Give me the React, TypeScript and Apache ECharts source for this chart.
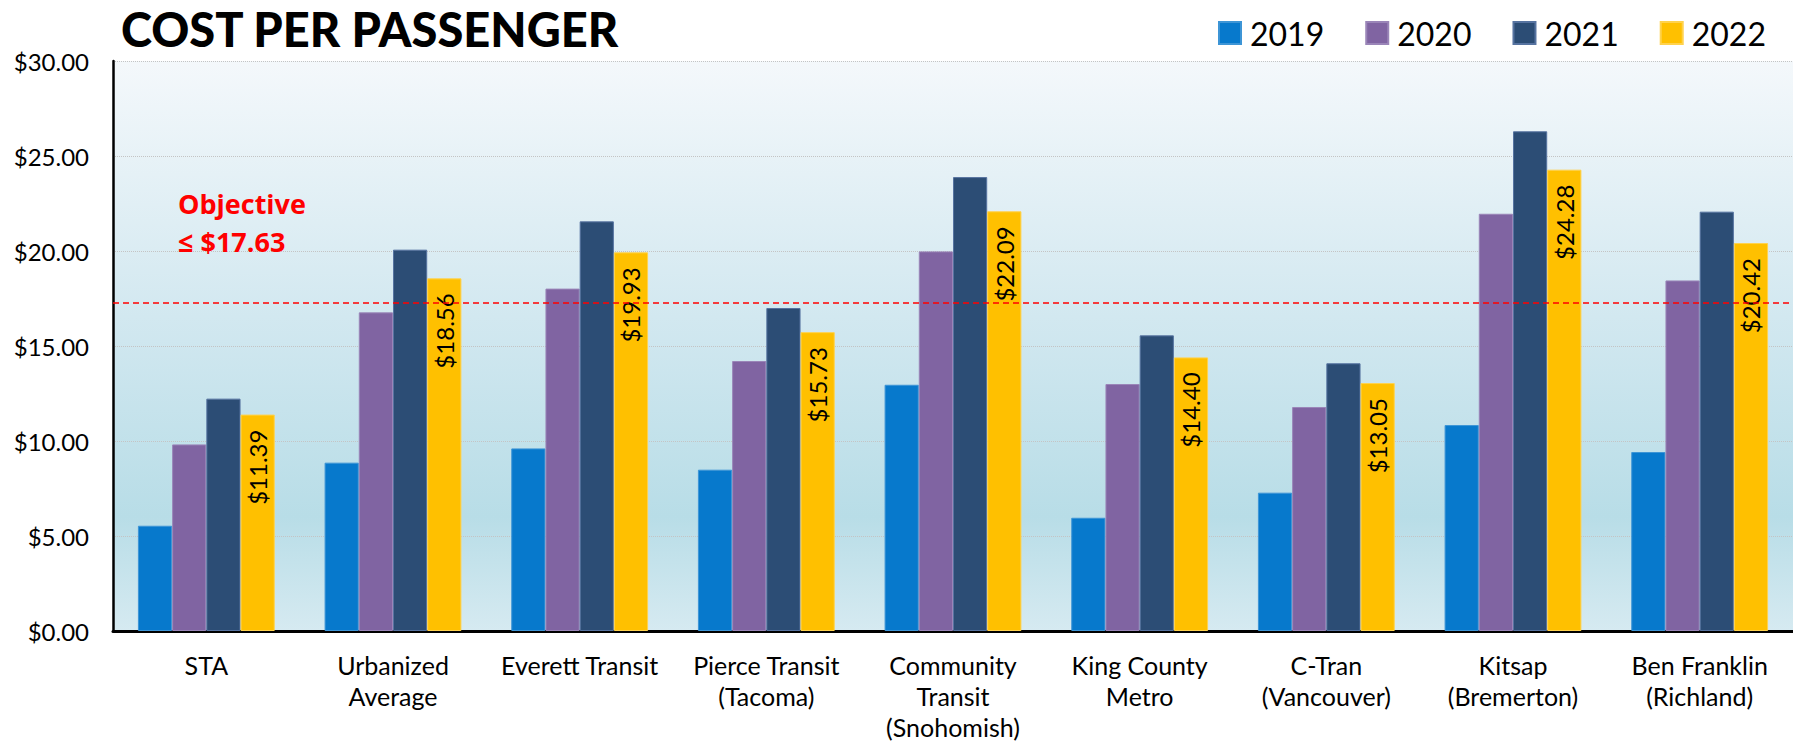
import React, { useEffect, useRef } from "react";
import * as echarts from "echarts";

const categories = [
  "STA",
  "Urbanized\nAverage",
  "Everett Transit",
  "Pierce Transit\n(Tacoma)",
  "Community\nTransit\n(Snohomish)",
  "King County\nMetro",
  "C-Tran\n(Vancouver)",
  "Kitsap\n(Bremerton)",
  "Ben Franklin\n(Richland)",
];
const years = ["2019", "2020", "2021", "2022"];
const v2019 = [5.54, 8.86, 9.61, 8.49, 12.96, 5.96, 7.28, 10.84, 9.42];
const v2020 = [9.82, 16.77, 18.02, 14.21, 19.98, 13.0, 11.79, 21.96, 18.45];
const v2021 = [12.23, 20.07, 21.56, 17.0, 23.89, 15.56, 14.09, 26.3, 22.07];
const v2022 = [11.39, 18.56, 19.93, 15.73, 22.09, 14.4, 13.05, 24.28, 20.42];
const objectiveLine = 17.28;
const objectiveText = "Objective\n≤ $17.63";
const yTicks = { min: 0, max: 30, interval: 5 };

const colors = ["#0779CC", "#8064A2", "#2C4D75", "#FFC000"];
const borders = ["#3d95d6", "#9a85b8", "#5673a0", "#ffd24d"];

export default function App() {
  const ref = useRef<HTMLDivElement>(null);
  useEffect(() => {
    if (!ref.current) return;
    const chart = echarts.init(ref.current, null, { renderer: "svg" });
    const seriesData = [v2019, v2020, v2021, v2022];
    const option: any = {
      animation: false,
      backgroundColor: "#ffffff",
      textStyle: { fontFamily: "Lato" },
      title: {
        text: "COST PER PASSENGER",
        left: 116,
        top: 0,
        textStyle: {
          fontFamily: "Lato",
          fontWeight: 900,
          fontSize: 47,
          color: "#000",
        },
      },
      legend: {
        data: years,
        left: 1213,
        top: 12,
        icon: "rect",
        itemWidth: 22,
        itemHeight: 22,
        itemGap: 41,
        textStyle: {
          fontFamily: "Lato",
          fontSize: 32,
          color: "#000",
          padding: [0, 0, 0, 4],
        },
      },
      grid: {
        left: 113,
        right: -3,
        top: 61,
        bottom: 113,
        show: true,
        borderWidth: 0,
        backgroundColor: new echarts.graphic.LinearGradient(0, 0, 0, 1, [
          { offset: 0, color: "#f4f8fb" },
          { offset: 0.45, color: "#d2e8f0" },
          { offset: 0.8, color: "#b8dde7" },
          { offset: 1, color: "#d6eaf1" },
        ]),
      },
      xAxis: {
        type: "category",
        data: categories,
        axisLine: { show: true, lineStyle: { color: "#000", width: 3 } },
        axisTick: { show: false },
        axisLabel: {
          color: "#000",
          fontFamily: "Lato",
          fontSize: 25,
          lineHeight: 31,
          margin: 18,
          interval: 0,
        },
      },
      yAxis: {
        type: "value",
        min: yTicks.min,
        max: yTicks.max,
        interval: yTicks.interval,
        axisLine: { show: true, lineStyle: { color: "#000", width: 2.5 } },
        axisTick: { show: false },
        axisLabel: {
          color: "#000",
          fontFamily: "Lato",
          fontSize: 24,
          margin: 24,
          formatter: (v: number) => "$" + v.toFixed(2),
        },
        splitLine: {
          show: true,
          lineStyle: { color: "#c4c4c4", type: "dotted", width: 1 },
        },
      },
      graphic: [
        {
          type: "text",
          left: 178,
          top: 184,
          z: 10,
          style: {
            text: objectiveText,
            fill: "#ff0000",
            font: "bold 27px 'Open Sans'",
            lineHeight: 38,
          },
        },
      ],
      series: years.map((y, i) => ({
        name: y,
        type: "bar",
        data: seriesData[i],
        barGap: "0%",
        barCategoryGap: "26.7%",
        itemStyle: {
          color: colors[i],
          borderColor: borders[i],
          borderWidth: 1,
        },
        label:
          i === 3
            ? {
                show: true,
                position: "insideTop",
                distance: 15,
                rotate: 90,
                align: "right",
                verticalAlign: "middle",
                fontFamily: "Lato",
                fontSize: 24,
                color: "#000",
                formatter: (p: any) => "$" + p.value.toFixed(2),
              }
            : { show: false },
        markLine:
          i === 0
            ? {
                silent: true,
                symbol: "none",
                label: { show: false },
                lineStyle: { color: "#ff0000", type: [6, 4], width: 1.5 },
                data: [{ yAxis: objectiveLine }],
              }
            : undefined,
      })),
    };
    chart.setOption(option);
    return () => chart.dispose();
  }, []);
  return (
    <div
      ref={ref}
      style={{ position: "fixed", left: 0, top: 0, width: 1793, height: 744 }}
    />
  );
}
